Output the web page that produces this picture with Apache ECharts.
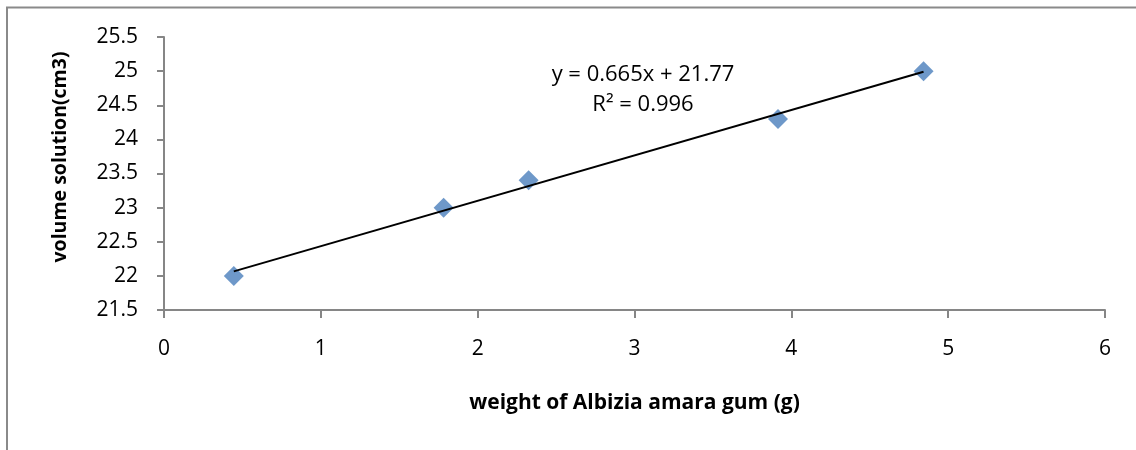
<!DOCTYPE html>
<html>
<head>
<meta charset="utf-8">
<script src="https://cdn.jsdelivr.net/npm/echarts@6/dist/echarts.min.js"></script>
<style>
  html, body { margin: 0; padding: 0; background: #fff; }
  #chart { width: 1136px; height: 450px; }
</style>
</head>
<body>
<div id="chart"></div>
<script>
// Measured gum weight (g) and resulting solution volume (cm3)
const weights = [0.445, 1.783, 2.325, 3.915, 4.843];
const volumes = [22.0, 23.0, 23.4, 24.3, 25.0];

// Linear fit reported on the chart
const slope = 0.665;
const intercept = 21.77;
const rSquared = 0.996;

const xTicks = [0, 1, 2, 3, 4, 5, 6];
const yTicks = [21.5, 22, 22.5, 23, 23.5, 24, 24.5, 25, 25.5];

const xTitle = 'weight of Albizia amara gum (g)';
const yTitle = 'volume solution(cm3)';

const points = weights.map((w, i) => [w, volumes[i]]);
const xMinData = Math.min(...weights);
const xMaxData = Math.max(...weights);
const trend = [
  [xMinData, slope * xMinData + intercept],
  [xMaxData, slope * xMaxData + intercept]
];

const font = '"Open Sans", "Noto Sans", sans-serif';
const axisGray = '#868686';

const chart = echarts.init(document.getElementById('chart'), null, { renderer: 'canvas' });

chart.setOption({
  animation: false,
  backgroundColor: '#ffffff',
  grid: { left: 164, right: 31, top: 37, bottom: 140, containLabel: false },
  xAxis: {
    type: 'value',
    min: xTicks[0],
    max: xTicks[xTicks.length - 1],
    interval: 1,
    splitLine: { show: false },
    axisLine: { show: true, lineStyle: { color: axisGray, width: 2 } },
    axisTick: { show: true, length: 8, lineStyle: { color: axisGray, width: 2 } },
    axisLabel: { color: '#000', fontFamily: font, fontSize: 21, margin: 29 },
    name: xTitle,
    nameLocation: 'middle',
    nameGap: 83,
    nameTextStyle: { color: '#000', fontFamily: font, fontSize: 21, fontWeight: 'bold' }
  },
  yAxis: {
    type: 'value',
    min: yTicks[0],
    max: yTicks[yTicks.length - 1],
    interval: 0.5,
    splitLine: { show: false },
    axisLine: { show: true, onZero: false, lineStyle: { color: axisGray, width: 2 } },
    axisTick: { show: true, length: 7, lineStyle: { color: axisGray, width: 2 } },
    axisLabel: { color: '#000', fontFamily: font, fontSize: 21, margin: 26 }
  },
  graphic: [
    {
      type: 'polyline',
      silent: true,
      shape: { points: [[7, 460], [7, 7.5], [1140, 7.5]] },
      style: { stroke: '#8a8a8a', lineWidth: 2, fill: null }
    },
    {
      type: 'text',
      x: 60,
      y: 157,
      rotation: Math.PI / 2,
      style: {
        text: yTitle,
        fill: '#000',
        font: 'bold 19.5px ' + font,
        textAlign: 'center',
        textVerticalAlign: 'middle'
      }
    },
    {
      type: 'text',
      x: 643,
      y: 75,
      style: {
        text: 'y = ' + slope + 'x + ' + intercept,
        fill: '#000',
        font: '22px ' + font,
        textAlign: 'center',
        textVerticalAlign: 'middle'
      }
    },
    {
      type: 'text',
      x: 643,
      y: 105,
      style: {
        text: 'R² = ' + rSquared,
        fill: '#000',
        font: '22px ' + font,
        textAlign: 'center',
        textVerticalAlign: 'middle'
      }
    }
  ],
  series: [
    {
      type: 'scatter',
      data: points,
      symbol: 'diamond',
      symbolSize: 20,
      itemStyle: { color: '#4a7ebb' },
      z: 2
    },
    {
      type: 'line',
      data: trend,
      symbol: 'none',
      lineStyle: { color: '#000', width: 2 },
      z: 3
    }
  ]
});
</script>
</body>
</html>
